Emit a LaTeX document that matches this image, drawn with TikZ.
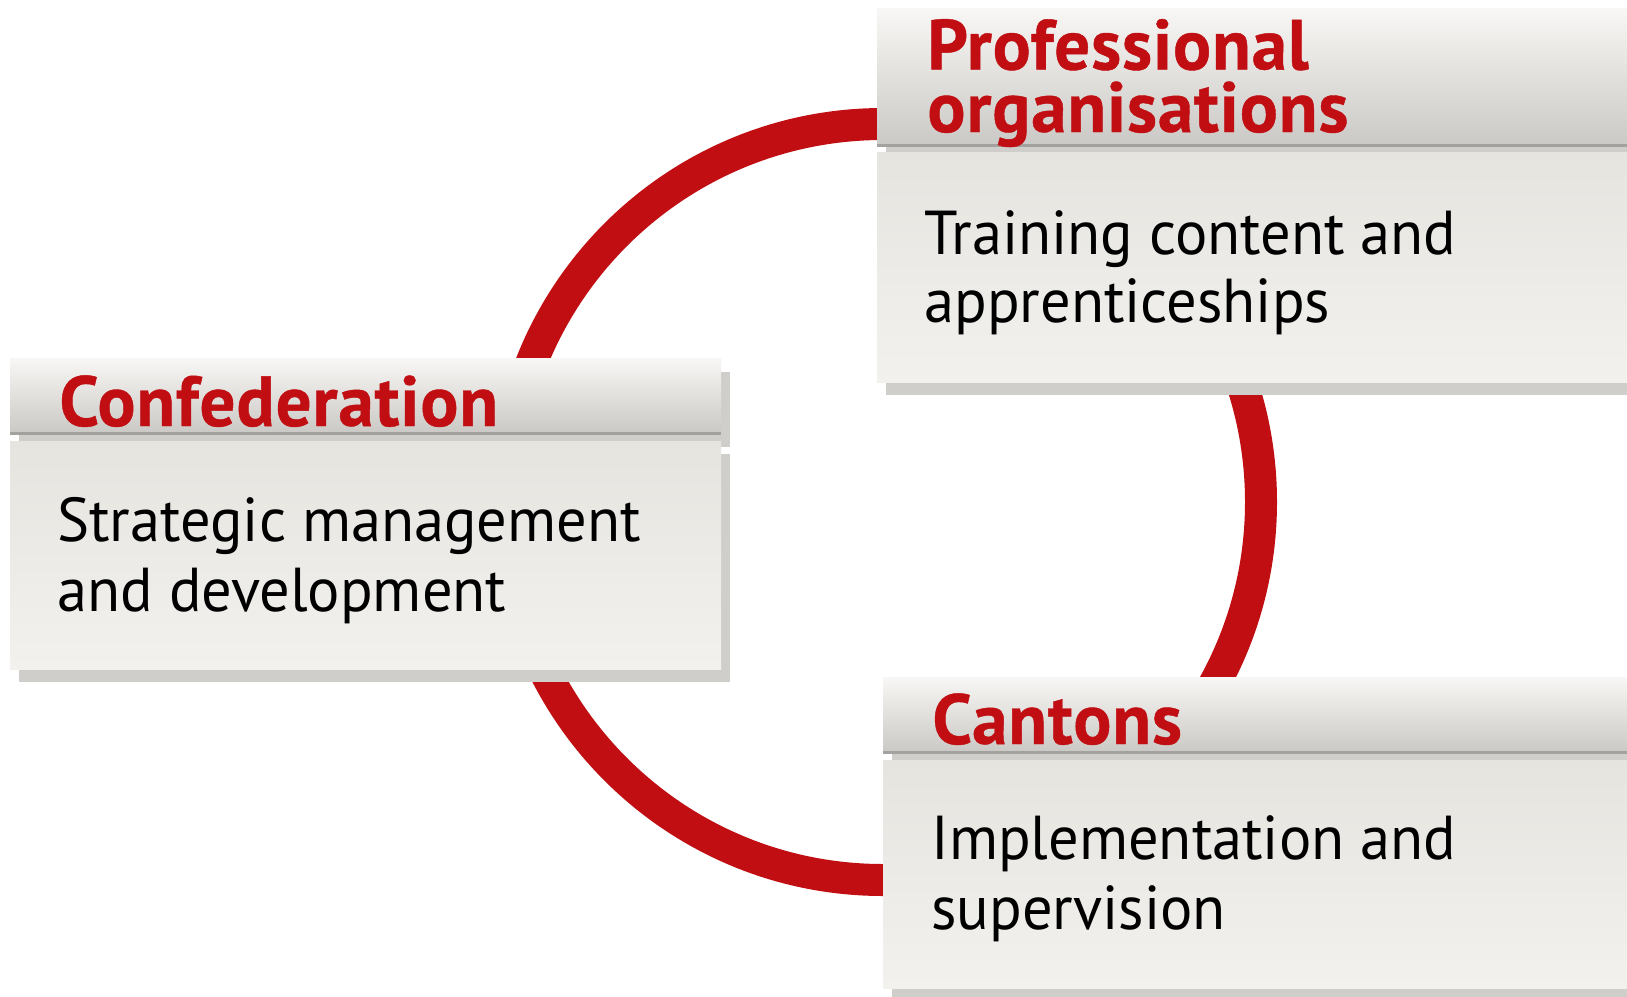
\documentclass[tikz,border=0pt]{standalone}
\usepackage{fontspec}
\usetikzlibrary{calc}
\setmainfont[FakeStretch=0.975]{PT Sans}
\newfontfamily\hdfont[FakeStretch=1.0, LetterSpace=1.3, FakeBold=0.6]{PT Sans}
\definecolor{swred}{RGB}{192,14,18}
\definecolor{hdtop}{RGB}{248,247,245}
\definecolor{hdbot}{RGB}{203,201,197}
\definecolor{hdline}{RGB}{164,162,158}
\definecolor{shad}{RGB}{208,206,202}
\definecolor{bdtop}{RGB}{230,228,223}
\definecolor{bdbot}{RGB}{242,241,238}
\tikzset{
  hd/.style={font=\hdfont\bfseries\fontsize{35.5}{40}\selectfont, text=swred, inner sep=0pt, anchor=base west, text height=26pt},
  bd/.style={font=\fontsize{31}{36}\selectfont, text=black, inner sep=0pt, anchor=base west},
  ring/.style={draw=swred, line width=16pt}
}
% #1 x1, #2 x2, #3 header top, #4 header bottom, #5 body top, #6 body bottom
\newcommand\drawpanel[6]{%
  \fill[shad] ($(#1,#3)+(9,14)$) rectangle ($(#2,#4)+(9,14)$);
  \fill[shad] ($(#1,#5)+(9,13)$) rectangle ($(#2,#6)+(9,13)$);
  \shade[top color=hdtop, bottom color=hdbot] (#1,#3) rectangle (#2,#4);
  \draw[hdline, line width=1.5pt] (#1,#4) -- (#2,#4);
  \shade[top color=bdtop, bottom color=bdbot] (#1,#5) rectangle (#2,#6);
}
\begin{document}
\begin{tikzpicture}[x=0.5pt, y=-0.5pt]
\useasboundingbox (0,0) rectangle (1627,996);
\fill[white] (0,0) rectangle (1627,996);
\coordinate (center) at (883,502);
\draw[ring] (center) circle [radius=189pt];
% Professional organisations
\drawpanel{877}{1640}{8}{145}{152}{382}
% Confederation
\drawpanel{10}{721}{358}{433}{441}{669}
% Cantons
\drawpanel{883}{1640}{677}{752}{760}{988}
\node[hd, text depth=0pt] (prof1) at (927,69.5) {Professional};
\node[hd] (prof2) at (927,132) {organisations};
\node[bd] (prof3) at (924,254) {Training content and};
\node[bd] (prof4) at (924,322) {apprenticeships};
\node[hd] (conf1) at (59,426) {Confederation};
\node[bd] (conf2) at (57,541) {Strategic management};
\node[bd] (conf3) at (57,611) {and development};
\node[hd] (cant1) at (932,744) {Cantons};
\node[bd] (cant2) at (931,859) {Implementation and};
\node[bd] (cant3) at (931,929) {supervision};
\end{tikzpicture}
\end{document}
